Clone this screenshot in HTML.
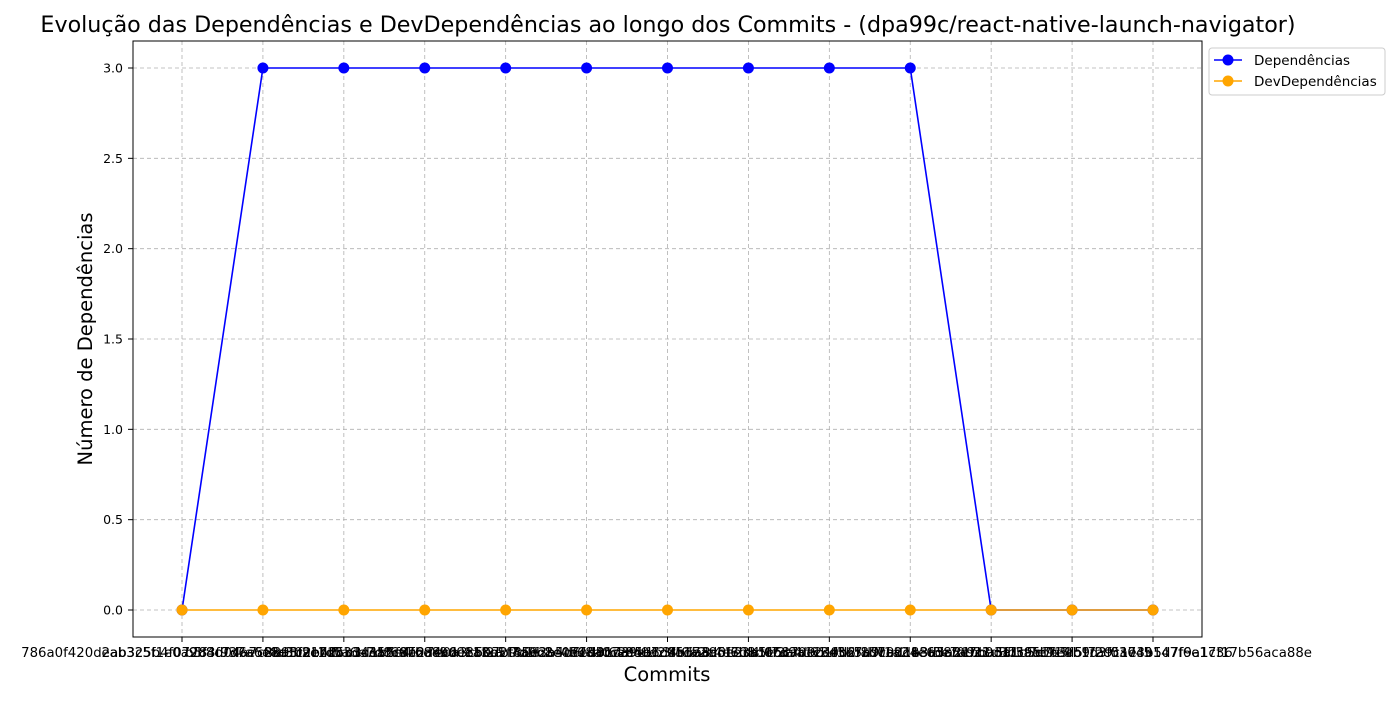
<!DOCTYPE html>
<html><head><meta charset="utf-8"><style>
body{margin:0;background:#fff;}
svg{font-family:"DejaVu Sans","Liberation Sans",sans-serif;}
</style></head><body>
<svg id="chart" width="1400" height="700">
<text x="668" y="32" font-size="22.2" text-anchor="middle">Evolução das Dependências e DevDependências ao longo dos Commits - (dpa99c/react-native-launch-navigator)</text>
<g id="grid"></g>
<g id="series"></g>
<rect x="133" y="41" width="1069" height="596" fill="none" stroke="#000" stroke-width="1"/>
<g id="ticks"></g>
<text x="667" y="681" font-size="19.5" text-anchor="middle">Commits</text>
<text transform="translate(92,339) rotate(-90)" font-size="19.5" text-anchor="middle">Número de Dependências</text>
<g>
<rect x="1209" y="48" width="176" height="47" rx="3" fill="#fff" stroke="#ccc"/>
<g>
<line x1="1214" y1="60" x2="1242" y2="60" stroke="blue" stroke-width="1.5"/><circle cx="1228" cy="60" r="5.5" fill="blue"/>
<text x="1254" y="65" font-size="13.5">Dependências</text></g>
<g>
<line x1="1214" y1="81" x2="1242" y2="81" stroke="orange" stroke-width="1.5"/><circle cx="1228" cy="81" r="5.5" fill="orange"/>
<text x="1254" y="86" font-size="13.5">DevDependências</text></g>
</g>
</svg>
<script>
const commits = ["786a0f420d2ab3c5f1e0a9b8c7d6e5f4a3b2c1d0","eab325b4f07283f937a6e8d1c2b4f5a6e7d8c9b0","b5f4d04a7c8e9f0a1b2c3d4e5f6a7b8c9d0e1f2a","28a3f9e7d5b1c3a2e4f6d8b0c1a3e5f7d9b2c4e6","c3d1b5f8e2a4c6e8b0d2f4a6c8e0b2d4f6a8c0e2","7e0a3c5e7b9d1f3a5c7e9b1d3f5a7c9e1b3d5f70","f85e2b4d6f8a0c2e4b6d8f0a2c4e6b8d0f2a4c61","d3c7a9e1b3f5d7a9c1e3b5f7d9a1c3e5b7d9f1a2","4b6a8c0e2d4f6b8a0c2e4d6f8b0a2c4e6d8f0b23","a1e5c7d9b1f3e5a7c9d1b3f5e7a9c1d3b5f7e914","0b2f1d7e0d88a3c5e7b9d1f3a5c7e9b1d3f5a7c5","e3d5a21bba5f7c9e1b3d5f7a9c1e3b5d7f9a1c36","3a1c5d7e5fb9f2c03049147f6e17f17b56aca88e"];
const dependencias = [0,3,3,3,3,3,3,3,3,3,0,0,0];
const devDependencias = [0,0,0,0,0,0,0,0,0,0,0,0,0];
const yTicks = [0,0.5,1,1.5,2,2.5,3];
const ns="http://www.w3.org/2000/svg";
const xs=i=>182+i*(1153-182)/(commits.length-1);
const ys=v=>610-v*(610-68)/3;
const grid=document.getElementById('grid'),ticks=document.getElementById('ticks'),series=document.getElementById('series');
function mk(tag,attrs,parent){const e=document.createElementNS(ns,tag);for(const k in attrs)e.setAttribute(k,attrs[k]);parent.appendChild(e);return e;}
yTicks.forEach(v=>{const y=ys(v);
 const g=mk('line',{x1:133,x2:1202,y1:y,y2:y,stroke:'#b0b0b0','stroke-width':0.8,'stroke-dasharray':'4,3'},grid);
 
 
 mk('line',{x1:128,x2:133,y1:y,y2:y,stroke:'#000'},ticks);
 const t=mk('text',{x:123,y:y+4.5,'font-size':12.5,'text-anchor':'end'},ticks);t.textContent=v.toFixed(1);
 
 
});
commits.forEach((c,i)=>{const x=xs(i);
 const g=mk('line',{x1:x,x2:x,y1:41,y2:637,stroke:'#b0b0b0','stroke-width':0.8,'stroke-dasharray':'4,3'},grid);
 
 
 mk('line',{x1:x,x2:x,y1:637,y2:642,stroke:'#000'},ticks);
 const t=mk('text',{x:x,y:657,'font-size':13.3,'text-anchor':'middle'},ticks);t.textContent=c;
 
 
});
function draw(vals,color,name){
 const p=mk('polyline',{points:vals.map((v,i)=>xs(i)+','+ys(v)).join(' '),fill:'none',stroke:color,'stroke-width':1.6},series);
 
 
 vals.forEach((v,i)=>{const c=mk('circle',{cx:xs(i),cy:ys(v),r:5.5,fill:color},series);
  
  });
}
draw(dependencias,'blue','dependencias');
draw(devDependencias,'orange','devdependencias');
</script>
</body></html>
